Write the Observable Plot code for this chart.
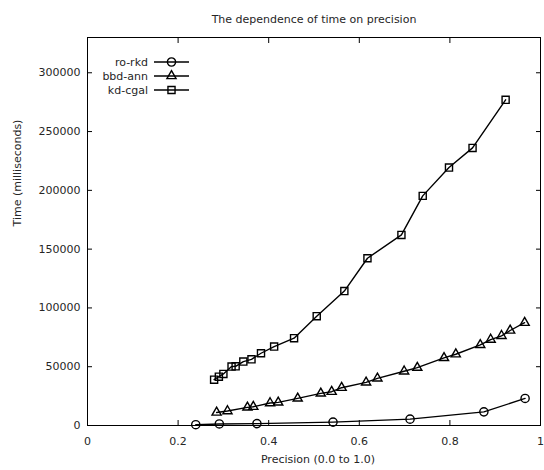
<!DOCTYPE html>
<html>
<head>
<meta charset="utf-8">
<script src="https://cdn.jsdelivr.net/npm/d3@7"></script>
<script src="https://cdn.jsdelivr.net/npm/@observablehq/plot@0.6"></script>
<style>
  html, body { margin: 0; padding: 0; background: #fff; }
  #wrap { position: relative; width: 544px; height: 470px; }
  #legend { position: absolute; left: 0; top: 0; pointer-events: none; }
</style>
</head>
<body>
<div id="wrap"></div>
<script>
const title = "The dependence of time on precision";
const xLabel = "Precision (0.0 to 1.0)";
const yLabel = "Time (milliseconds)";
const seriesNames = ["ro-rkd", "bbd-ann", "kd-cgal"];
const seriesSymbols = ["circle", "triangle", "square"];

const roX = [0.239, 0.291, 0.374, 0.542, 0.712, 0.875, 0.966];
const roY = [700, 1300, 1600, 2900, 5400, 11600, 23000];

const bbdX = [0.285, 0.309, 0.353, 0.366, 0.403, 0.421, 0.464, 0.515, 0.539, 0.561, 0.615, 0.640, 0.699, 0.728, 0.787, 0.813, 0.867, 0.890, 0.914, 0.933, 0.965];
const bbdY = [11100, 12300, 15400, 15950, 19100, 19650, 23050, 27300, 28750, 32150, 36700, 40100, 46100, 49200, 57500, 60600, 68600, 73100, 76300, 80800, 87400];

const kdX = [0.2795, 0.290, 0.300, 0.318, 0.327, 0.344, 0.362, 0.383, 0.412, 0.456, 0.506, 0.567, 0.618, 0.693, 0.740, 0.798, 0.850, 0.923];
const kdY = [39000, 41550, 43850, 50100, 50350, 54350, 56300, 61450, 67150, 74250, 93000, 114350, 142250, 162100, 195300, 219400, 236100, 277000];

const xTicks = [0, 0.2, 0.4, 0.6, 0.8, 1];
const yTicks = [0, 50000, 100000, 150000, 200000, 250000, 300000];

const allX = [roX, bbdX, kdX];
const allY = [roY, bbdY, kdY];
const data = [];
seriesNames.forEach((name, i) => {
  allX[i].forEach((x, j) => data.push({series: name, x, y: allY[i][j]}));
});

const FONT = "DejaVu Sans, sans-serif";
const TEXT = "#262626";
const fmtX = d => String(+d.toFixed(1));
const markerR = {"circle": 4.1, "triangle": 3.4, "square": 4.0};
const SW = 1.4;

const dotMarks = seriesNames.map((name, i) =>
  Plot.dot(data.filter(d => d.series === name), {
    x: "x", y: "y", symbol: seriesSymbols[i], r: markerR[seriesSymbols[i]],
    stroke: "black", strokeWidth: SW, fill: "none"
  })
);

const chart = Plot.plot({
  width: 544,
  height: 470,
  marginLeft: 87,
  marginRight: 4,
  marginTop: 37,
  marginBottom: 45,
  style: {fontFamily: FONT, fontSize: "11px", color: "black", background: "white", overflow: "visible"},
  x: {domain: [0, 1]},
  y: {domain: [0, 330000]},
  marks: [
    Plot.axisX({anchor: "bottom", ticks: xTicks, tickSize: -5, tickPadding: 17, tickFormat: fmtX, label: null, fill: TEXT, stroke: "black"}),
    Plot.axisX({anchor: "top", ticks: xTicks, tickSize: -5, tickFormat: () => "", label: null, stroke: "black"}),
    Plot.axisY({anchor: "left", ticks: yTicks, tickSize: -5, tickPadding: 12, tickFormat: "d", label: null, fill: TEXT, stroke: "black"}),
    Plot.axisY({anchor: "right", ticks: yTicks, tickSize: -5, tickFormat: () => "", label: null, stroke: "black"}),
    Plot.frame({stroke: "black", strokeWidth: 1}),
    Plot.line(data, {x: "x", y: "y", z: "series", stroke: "black", strokeWidth: SW}),
    ...dotMarks,
    Plot.text([title], {frameAnchor: "top", dy: -22, dx: 0, fill: TEXT, fontSize: 11}),
    Plot.text([xLabel], {frameAnchor: "bottom", dy: 37, dx: 4, fill: TEXT, fontSize: 11}),
    Plot.text([yLabel], {frameAnchor: "left", dx: -70, dy: -5, rotate: -90, fill: TEXT, fontSize: 11})
  ]
});

const wrap = document.getElementById("wrap");
wrap.appendChild(chart);

// Legend overlay
const legend = d3.select(wrap).append("svg")
  .attr("id", "legend")
  .attr("width", 544).attr("height", 470);
const rowY = [62, 76, 90];
seriesNames.forEach((name, i) => {
  const g = legend.append("g").attr("transform", `translate(0,${rowY[i]})`);
  g.append("text").attr("x", 148).attr("y", 0).attr("dy", "0.35em")
    .attr("text-anchor", "end").attr("font-family", FONT).attr("font-size", 11)
    .attr("fill", TEXT).text(name);
  g.append("line").attr("x1", 154).attr("x2", 189).attr("y1", 0).attr("y2", 0)
    .attr("stroke", "black").attr("stroke-width", SW);
  const sym = {circle: d3.symbolCircle, triangle: d3.symbolTriangle, square: d3.symbolSquare}[seriesSymbols[i]];
  const rr = markerR[seriesSymbols[i]];
  g.append("path").attr("transform", "translate(171.5,0)")
    .attr("d", d3.symbol(sym, rr * rr * Math.PI)())
    .attr("fill", "none").attr("stroke", "black").attr("stroke-width", SW);
});
</script>
</body>
</html>
